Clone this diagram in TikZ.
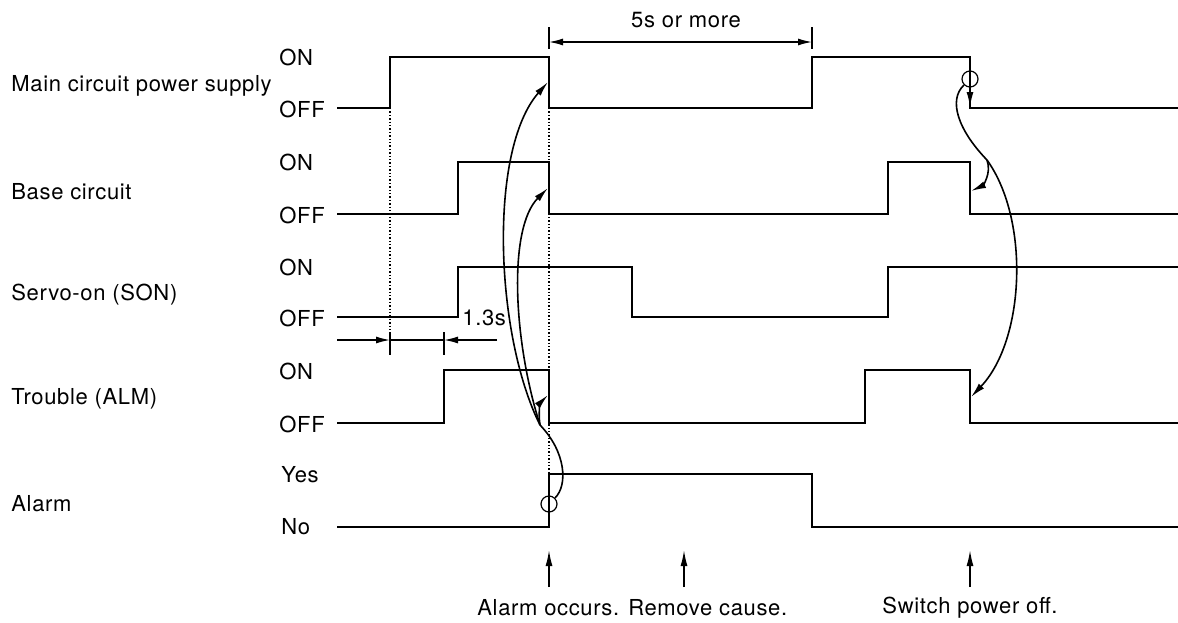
\documentclass[tikz,border=0pt]{standalone}
\usepackage{fontspec}
\setmainfont{TeX Gyre Heros}[LetterSpace=3]
\usetikzlibrary{arrows.meta}
\tikzset{
  sig/.style       = {line width=1pt, line join=miter},
  lvl/.style       = {anchor=west, inner sep=0pt, font=\fontsize{11}{13}\selectfont},
  signame/.style   = {anchor=west, inner sep=0pt, font=\fontsize{11}{13}\selectfont},
  txt/.style       = {inner sep=0pt, font=\fontsize{11}{13}\selectfont},
  guide/.style     = {densely dotted, line width=0.7pt},
  dimline/.style   = {line width=0.7pt},
  dimtick/.style   = {line width=0.7pt},
  dimarrow/.style  = {-{Latex[length=7pt,width=3.5pt]}, line width=0.7pt},
  causeline/.style = {line width=0.8pt},
  cause/.style     = {-{Latex[length=7.5pt,width=3.5pt]}, line width=0.8pt},
  uparrow/.style   = {-{Latex[length=8pt,width=3.5pt]}, line width=0.8pt},
  ring/.style      = {circle, draw, line width=0.6pt, minimum size=8pt, inner sep=0pt},
}

\begin{document}
\begin{tikzpicture}[x=0.5pt, y=-0.5pt]
  \useasboundingbox (0,0) rectangle (1178,622);

  % signal names
  \node[signame] (nmain)  at (11,86)  {Main circuit power supply};
  \node[signame] (nbase)  at (11,192) {Base circuit};
  \node[signame] (nson)   at (11,295) {Servo-on (SON)};
  \node[signame] (nalm)   at (11,399) {Trouble (ALM)};
  \node[signame] (nalarm) at (11,504) {Alarm};

  % levels
  \node[lvl] (mainon)  at (279,57)  {ON};
  \node[lvl] (mainoff) at (279,109) {OFF};
  \node[lvl] (baseon)  at (279,162) {ON};
  \node[lvl] (baseoff) at (279,215) {OFF};
  \node[lvl] (sonon)   at (279,267) {ON};
  \node[lvl] (sonoff)  at (279,318) {OFF};
  \node[lvl] (almon)   at (279,371) {ON};
  \node[lvl] (almoff)  at (279,424) {OFF};
  \node[lvl] (yes)     at (281,475) {Yes};
  \node[lvl] (no)      at (281,527) {No};

  % guide lines
  \draw[guide] (390,108) -- (390,332);
  \draw[guide] (549,108) -- (549,474);

  % waveforms
  \draw[sig] (337,108) -- (390,108) -- (390,57) -- (549,57) -- (549,108)
             -- (812,108) -- (812,57) -- (970,57) -- (970,108) -- (1178,108);
  \draw[sig] (337,214) -- (458,214) -- (458,162) -- (549,162) -- (549,214)
             -- (888,214) -- (888,162) -- (970,162) -- (970,214) -- (1178,214);
  \draw[sig] (337,317) -- (458,317) -- (458,267) -- (632,267) -- (632,317)
             -- (888,317) -- (888,267) -- (1178,267);
  \draw[sig] (337,423) -- (444,423) -- (444,370) -- (549,370) -- (549,423)
             -- (865,423) -- (865,370) -- (970,370) -- (970,423) -- (1178,423);
  \draw[sig] (337,527) -- (549,527) -- (549,474) -- (812,474) -- (812,527)
             -- (1178,527);

  % 5s or more
  \coordinate (wa) at (549,42);
  \coordinate (wb) at (812,42);
  \draw[dimtick] (549,27) -- (549,49);
  \draw[dimtick] (812,27) -- (812,49);
  \draw[dimline, {Latex[length=7pt,width=3.5pt]}-{Latex[length=7pt,width=3.5pt]}] (wa) -- (wb);
  \node[txt] (fives) at (686,20) {5s or more};

  % 1.3s
  \coordinate (da) at (337,340);
  \coordinate (db) at (390,340);
  \coordinate (dc) at (444,340);
  \coordinate (dd) at (497,340);
  \draw[dimline] (db) -- (dc);
  \draw[dimarrow] (da) -- (db);
  \draw[dimarrow] (dd) -- (dc);
  \draw[dimtick] (390,332) -- (390,355);
  \draw[dimtick] (444,332) -- (444,355);
  \node[txt, anchor=west] (delay) at (462,318) {1.3s};

  % alarm occurs
  \node[ring] (almring) at (549,504) {};
  \coordinate (lsplit)   at (540,425);
  \coordinate (mainfall) at (548,82);
  \coordinate (basefall) at (548,188);
  \coordinate (almfall)  at (548,395);
  \draw[causeline] (almring.north east) .. controls (568,485) and (566,452) .. (lsplit);
  \draw[cause] (lsplit) .. controls (495,335) and (488,150) .. (mainfall);
  \draw[cause] (lsplit) .. controls (513,340) and (508,228) .. (basefall);
  \draw[cause] (lsplit) .. controls (538,412) and (541,402) .. (almfall);

  % power off
  \node[ring] (offring) at (970,79) {};
  \coordinate (rsplit)  at (987,160);
  \coordinate (mainlow) at (970,107);
  \coordinate (basedrop) at (971,191);
  \coordinate (almdrop)  at (971,397);
  \draw[cause] (offring.south) -- (mainlow);
  \draw[causeline] (offring.south west) .. controls (948,100) and (958,130) .. (rsplit);
  \draw[cause] (rsplit) .. controls (1030,220) and (1025,340) .. (almdrop);
  \draw[cause] (rsplit) .. controls (992,174) and (982,186) .. (basedrop);

  % events
  \coordinate (ev1) at (549,550);
  \coordinate (ev2) at (684,550);
  \coordinate (ev3) at (970,550);
  \draw[uparrow] (549,587) -- (ev1);
  \draw[uparrow] (684,587) -- (ev2);
  \draw[uparrow] (970,587) -- (ev3);
  \node[txt, anchor=west] (occurs) at (477,608) {Alarm occurs. Remove cause.};
  \node[txt] (switchoff) at (970,608) {Switch power off.};
\end{tikzpicture}
\end{document}
